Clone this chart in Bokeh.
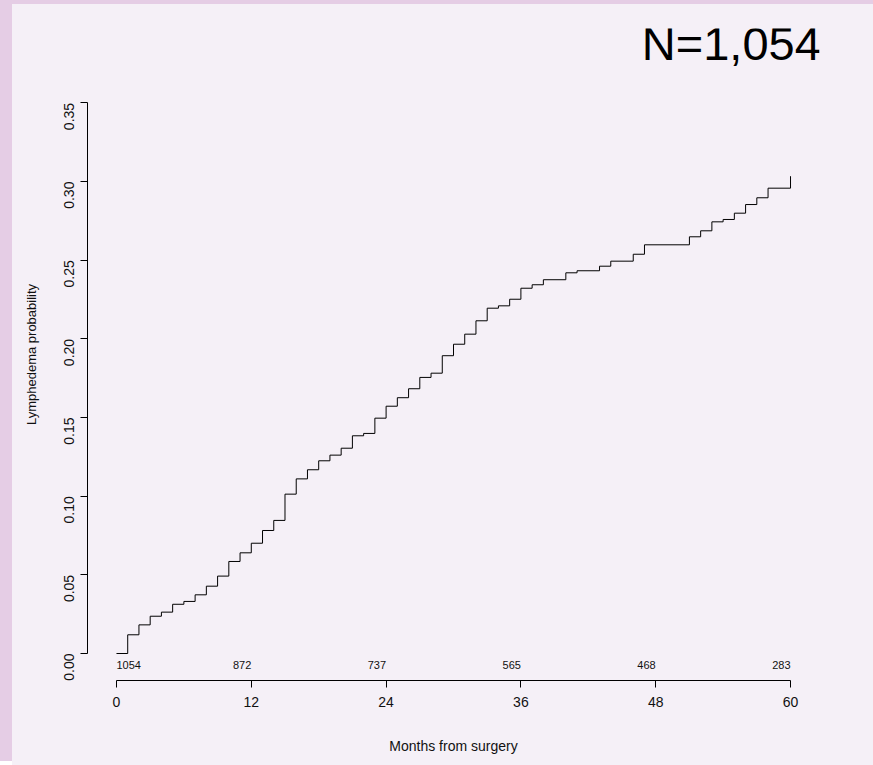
import math
from bokeh.plotting import figure
from bokeh.models import FixedTicker, Range1d, Label, CustomJSTickFormatter, ColumnDataSource
from bokeh.core.properties import value
from bokeh.embed import file_html
from bokeh.resources import INLINE

# ---- data ----
months = [0, 1, 2, 3, 4, 5, 6, 7, 8, 9, 10, 11, 12, 13, 14, 15, 16, 17, 18, 19,
          20, 21, 22, 23, 24, 25, 26, 27, 28, 29, 30, 31, 32, 33, 34, 35, 36, 37,
          38, 40, 41, 43, 44, 46, 47, 51, 52, 53, 54, 55, 56, 57, 58, 60]
probability = [0.0, 0.0119, 0.0182, 0.0237, 0.0263, 0.0313, 0.0331, 0.0373, 0.0428,
               0.0492, 0.0585, 0.0640, 0.0701, 0.0782, 0.0846, 0.1013, 0.1110, 0.1168,
               0.1225, 0.1261, 0.1305, 0.1384, 0.1399, 0.1496, 0.1572, 0.1626, 0.1683,
               0.1755, 0.1782, 0.1893, 0.1966, 0.2030, 0.2115, 0.2195, 0.2210, 0.2252,
               0.2322, 0.2344, 0.2376, 0.2420, 0.2433, 0.2462, 0.2494, 0.2538, 0.2598,
               0.2649, 0.2687, 0.2744, 0.2759, 0.2799, 0.2854, 0.2897, 0.2958, 0.3034]

x_ticks = [0, 12, 24, 36, 48, 60]
y_ticks = [0.0, 0.05, 0.10, 0.15, 0.20, 0.25, 0.30, 0.35]
at_risk = ["1054", "872", "737", "565", "468", "283"]
n_label = "N=1,054"

FONT = "Liberation Sans"
BG = "#f5f0f7"
PINK = "#e5cde5"

W, H = 861, 761
p = figure(width=W, height=H, output_backend="svg", toolbar_location=None,
           x_range=Range1d(-2.58, 62.58), y_range=Range1d(-0.01716, 0.3973),
           min_border_left=75, min_border_right=54, min_border_top=24,
           min_border_bottom=85)
p.margin = (4, 0, 0, 12)
p.styles = {"box-shadow": "-12px -4px 0px 0px %s, 0px -4px 0px 0px %s" % (PINK, PINK),
            "background-color": BG}
p.background_fill_color = None
p.border_fill_color = BG
p.outline_line_color = None
p.xgrid.visible = False
p.ygrid.visible = False

p.step(x=months, y=probability, mode="after", line_color="black", line_width=1)

# numbers at risk
src_first = ColumnDataSource(dict(x=x_ticks[:1], y=[-0.0076], t=at_risk[:1]))
src_rest = ColumnDataSource(dict(x=x_ticks[1:], y=[-0.0076] * 5, t=at_risk[1:]))
p.text(x="x", y="y", text="t", source=src_first, text_align="left",
       text_baseline="middle", text_font=value(FONT), text_font_size="11px",
       text_color="#111111")
p.text(x="x", y="y", text="t", source=src_rest, text_align="right",
       text_baseline="middle", text_font=value(FONT), text_font_size="11px",
       text_color="#111111")

# N label
p.add_layout(Label(x=62.7, y=0.388, text=n_label, text_align="right",
                   text_baseline="alphabetic", text_font=FONT,
                   text_font_size="47px", text_color="black"))

# axes
for ax in (p.xaxis[0], p.yaxis[0]):
    ax.axis_line_color = "black"
    ax.major_tick_line_color = "black"
    ax.major_tick_out = 7
    ax.major_tick_in = 0
    ax.minor_tick_line_color = None
    ax.major_label_text_font = FONT
    ax.major_label_text_font_size = "14px"
    ax.major_label_text_color = "#111111"
    ax.axis_label_text_font = FONT
    ax.axis_label_text_font_style = "normal"
    ax.axis_label_text_color = "#111111"

p.xaxis.ticker = FixedTicker(ticks=x_ticks)
p.xaxis.bounds = (0, 60)
p.xaxis.axis_label = "Months from surgery"
p.xaxis.axis_label_text_font_size = "14px"
p.xaxis.major_label_standoff = 9
p.xaxis.axis_label_standoff = 28

p.yaxis.ticker = FixedTicker(ticks=y_ticks)
p.yaxis.bounds = (0, 0.35)
p.yaxis.formatter = CustomJSTickFormatter(code="return tick.toFixed(2);")
p.yaxis.major_label_orientation = math.pi / 2
p.yaxis.major_label_standoff = 11
p.yaxis.axis_label = "Lymphedema probability"
p.yaxis.axis_label_text_font_size = "13px"
p.yaxis.axis_label_standoff = 18

open("out.html", "w").write(file_html(p, INLINE))
